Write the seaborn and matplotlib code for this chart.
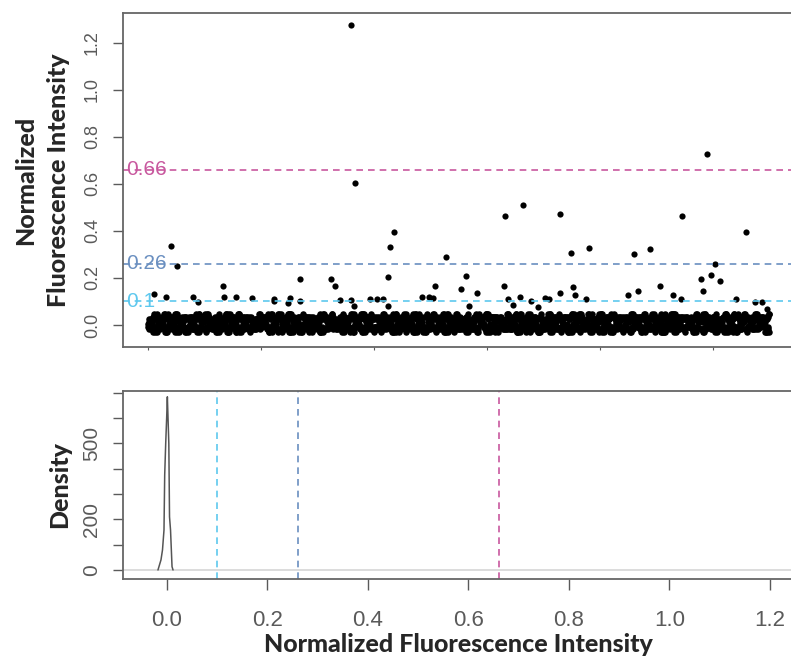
"""
Fluorescence intensity scatter (per spot) with density panel below.
Thresholds 0.1 / 0.26 / 0.66 drawn on both panels.
"""

import numpy as np
import seaborn as sns
import matplotlib.pyplot as plt

# =============================
# DATA
# =============================

N_SPOTS = 5500

# outliers above the main band: (spot index, intensity)
out_idx = [1796, 1832, 201, 254, 53, 159, 661, 673, 779, 395, 442, 920, 1115, 1115,
           1257, 1240, 1345, 1345, 1622, 1658, 1702, 1796, 1826, 1965, 2024, 2083,
           2142, 2180, 2127, 2127, 2637, 2540, 2422, 2487, 2525, 2767, 2814, 2909,
           2841, 3159, 3322, 3150, 3189, 3292, 3233, 3387, 3454, 3513, 3549, 3646,
           3646, 3746, 3900, 3764, 3779, 3876, 4304, 4442, 4245, 4334, 4531, 4649,
           4714, 4726, 4944, 4891, 4915, 4980, 5021, 5062, 5292, 5204, 5372, 5431, 5475]
out_val = [1.275, 0.603, 0.336, 0.252, 0.132, 0.120, 0.166, 0.119, 0.120, 0.120, 0.099,
           0.113, 0.110, 0.100, 0.113, 0.095, 0.197, 0.100, 0.194, 0.164, 0.106, 0.106,
           0.082, 0.110, 0.110, 0.110, 0.332, 0.395, 0.203, 0.082, 0.290, 0.166, 0.120,
           0.120, 0.113, 0.154, 0.207, 0.137, 0.082, 0.462, 0.509, 0.166, 0.110, 0.120,
           0.085, 0.102, 0.078, 0.113, 0.110, 0.472, 0.135, 0.306, 0.326, 0.160, 0.127,
           0.109, 0.300, 0.322, 0.127, 0.144, 0.166, 0.127, 0.109, 0.462, 0.728, 0.197,
           0.144, 0.211, 0.259, 0.187, 0.394, 0.109, 0.098, 0.098, 0.067]

# main band near zero, one digit per spot (0 -> -0.03 ... 7 -> 0.047)
# rows are read column by column (spot order runs down the columns)
band_rows = [
    "342516324153624315263421536425136241352643152634215362431526",
    "251436253142635241536214352634125361425316243516243152634152",
    "463152436215346251342615243615324651324156324153264135246135",
    "135264315246132546314256134625413624351263415236451324615324",
    "524361425136241536425163247153624135261437251364215346251436",
    "316245136425314625134652413625143652314625136452134625314652",
    "243516243615243651243615024361524316524361254316524136254136",
    "452136245136425136254163254136254136254163245163245136245163",
    "134625143625143652143625143652413625143625413652143625143625",
    "526314526314562314526341526314526341562314526314526341526314",
    "361425361452361425316425361452316425361425316452361425316425",
    "243561243516243561423516243561243516423561243516243561243516",
    "152634152643152634125643152634152643125634152643152634125643",
    "634215634251634215362415634251362415634215362451634215362415",
    "061527160452716045261705461270541627054162705416207541620754",
    "725061470526170452607145260714526017452601745206174520617452",
    "170625071652071605271650271605217650217605271650217605217650",
    "506172506127506172560127506172560172506127560172506127506172",
    "617050617250671205617250612705617250612750617205617250612750",
    "072516072561702516072561702516072516702561072516702561072516",
    "251607251670521607251670521607251670521607251670251607521670",
    "607152607125670152607125670152607125607152670125607152670125",
    "160527160572106527160572106527160572160527106572160527106572",
    "527061527016572061527016572061527016527061572016527061572016",
    "705216705261750216705261750216705261705216750261705216750261",
    "016275016257061275016257061275016257016275061257016275061257",
    "372604372640327604372640327604372640372604327640372604327640",
    "460273460237406273460237406273460237460273406237460273406237",
]

# density curve of intensities
dens_x = [-0.018, -0.012, -0.009, -0.006, -0.0046, -0.0026, -0.0006, 0.0007,
          0.0036, 0.005, 0.007, 0.010, 0.012]
dens_y = [0, 40, 79, 158, 375, 500, 606, 684, 500, 210, 158, 13, 0]

thresholds = [0.1, 0.26, 0.66]
thr_labels = ["0.1", "0.26", "0.66"]
thr_colors = ["#5EC8EE", "#6A8FC0", "#C8589E"]

band_digits = "".join("".join(col) for col in zip(*band_rows))
band_val = [-0.03 + int(c) * 0.011 for c in band_digits]
band_idx = np.linspace(0, N_SPOTS - 1, len(band_val))

# =============================
# STYLE
# =============================

sns.set_style("white")
plt.rcParams["font.family"] = ["Liberation Sans", "DejaVu Sans"]
TICK_COLOR = "#5a5a5a"
LABEL_FONT = {"family": ["Lato", "DejaVu Sans"], "weight": "black", "size": 18}

fig = plt.figure(figsize=(7.91, 6.56), dpi=100)
W, H = 791, 656
ax1 = fig.add_axes([123 / W, 1 - 347 / H, 671 / W, 334 / H])
ax2 = fig.add_axes([123 / W, 1 - 579 / H, 671 / W, 188 / H])

# =============================
# TOP: SCATTER
# =============================

sns.scatterplot(x=band_idx, y=band_val, color="black", s=22, linewidth=0, ax=ax1)
sns.scatterplot(x=out_idx, y=out_val, color="black", s=20, linewidth=0, ax=ax1)

for t, lab, col in zip(thresholds, thr_labels, thr_colors):
    ax1.axhline(t, color=col, lw=1.2, ls=(0, (4, 3)), zorder=1)
    ax1.text(-190, t, lab, color=col, fontsize=15, va="center", ha="left", zorder=3)

ax1.set_xlim(-221, 5717)
ax1.set_ylim(-0.0935, 1.326)
ax1.set_xticks([0, 1000, 2000, 3000, 4000, 5000])
ax1.set_xticklabels([])
ax1.set_yticks([0.0, 0.2, 0.4, 0.6, 0.8, 1.0, 1.2])
ax1.set_yticklabels(["0.0", "0.2", "0.4", "0.6", "0.8", "1.0", "1.2"],
                    rotation=90, va="center", color=TICK_COLOR, fontsize=13)
ax1.tick_params(axis="y", length=7, width=1, color=TICK_COLOR, pad=9, left=True)
ax1.tick_params(axis="x", length=2.5, width=0.8, color=TICK_COLOR, bottom=True)
ax1.set_ylabel("Normalized\nFluorescence Intensity", fontdict=LABEL_FONT,
               linespacing=1.5, labelpad=10)
ax1.set_xlabel("")

# =============================
# BOTTOM: DENSITY
# =============================

ax2.axhline(0, color="#d6d6d6", lw=1.2, zorder=1)
sns.lineplot(x=dens_x, y=dens_y, sort=False, estimator=None, color="#555555",
             lw=1.1, ax=ax2)
for t, col in zip(thresholds, thr_colors):
    ax2.axvline(t, color=col, lw=1.2, ls=(0, (4, 3)), zorder=1)

ax2.set_xlim(-0.0876, 1.248)
ax2.set_ylim(-35.6, 707)
ax2.set_xticks([0.0, 0.2, 0.4, 0.6, 0.8, 1.0, 1.2])
ax2.set_xticklabels(["0.0", "0.2", "0.4", "0.6", "0.8", "1.0", "1.2"],
                    color=TICK_COLOR, fontsize=16)
ax2.set_yticks([0, 100, 200, 300, 400, 500, 600, 700])
ax2.set_yticklabels(["0", "", "200", "", "", "500", "", ""], rotation=90,
                    va="center", color=TICK_COLOR, fontsize=15)
ax2.tick_params(axis="y", length=7, width=1, color=TICK_COLOR, pad=9, left=True)
ax2.tick_params(axis="x", length=8, width=1, color=TICK_COLOR, pad=14, bottom=True)
ax2.set_ylabel("Density", fontdict=LABEL_FONT, labelpad=8)
ax2.set_xlabel("Normalized Fluorescence Intensity", fontdict=LABEL_FONT, labelpad=2)

for ax in (ax1, ax2):
    for sp in ax.spines.values():
        sp.set_color("#666666")
        sp.set_linewidth(1.3)

fig.savefig("out.png", dpi=100)
plt.close(fig)
